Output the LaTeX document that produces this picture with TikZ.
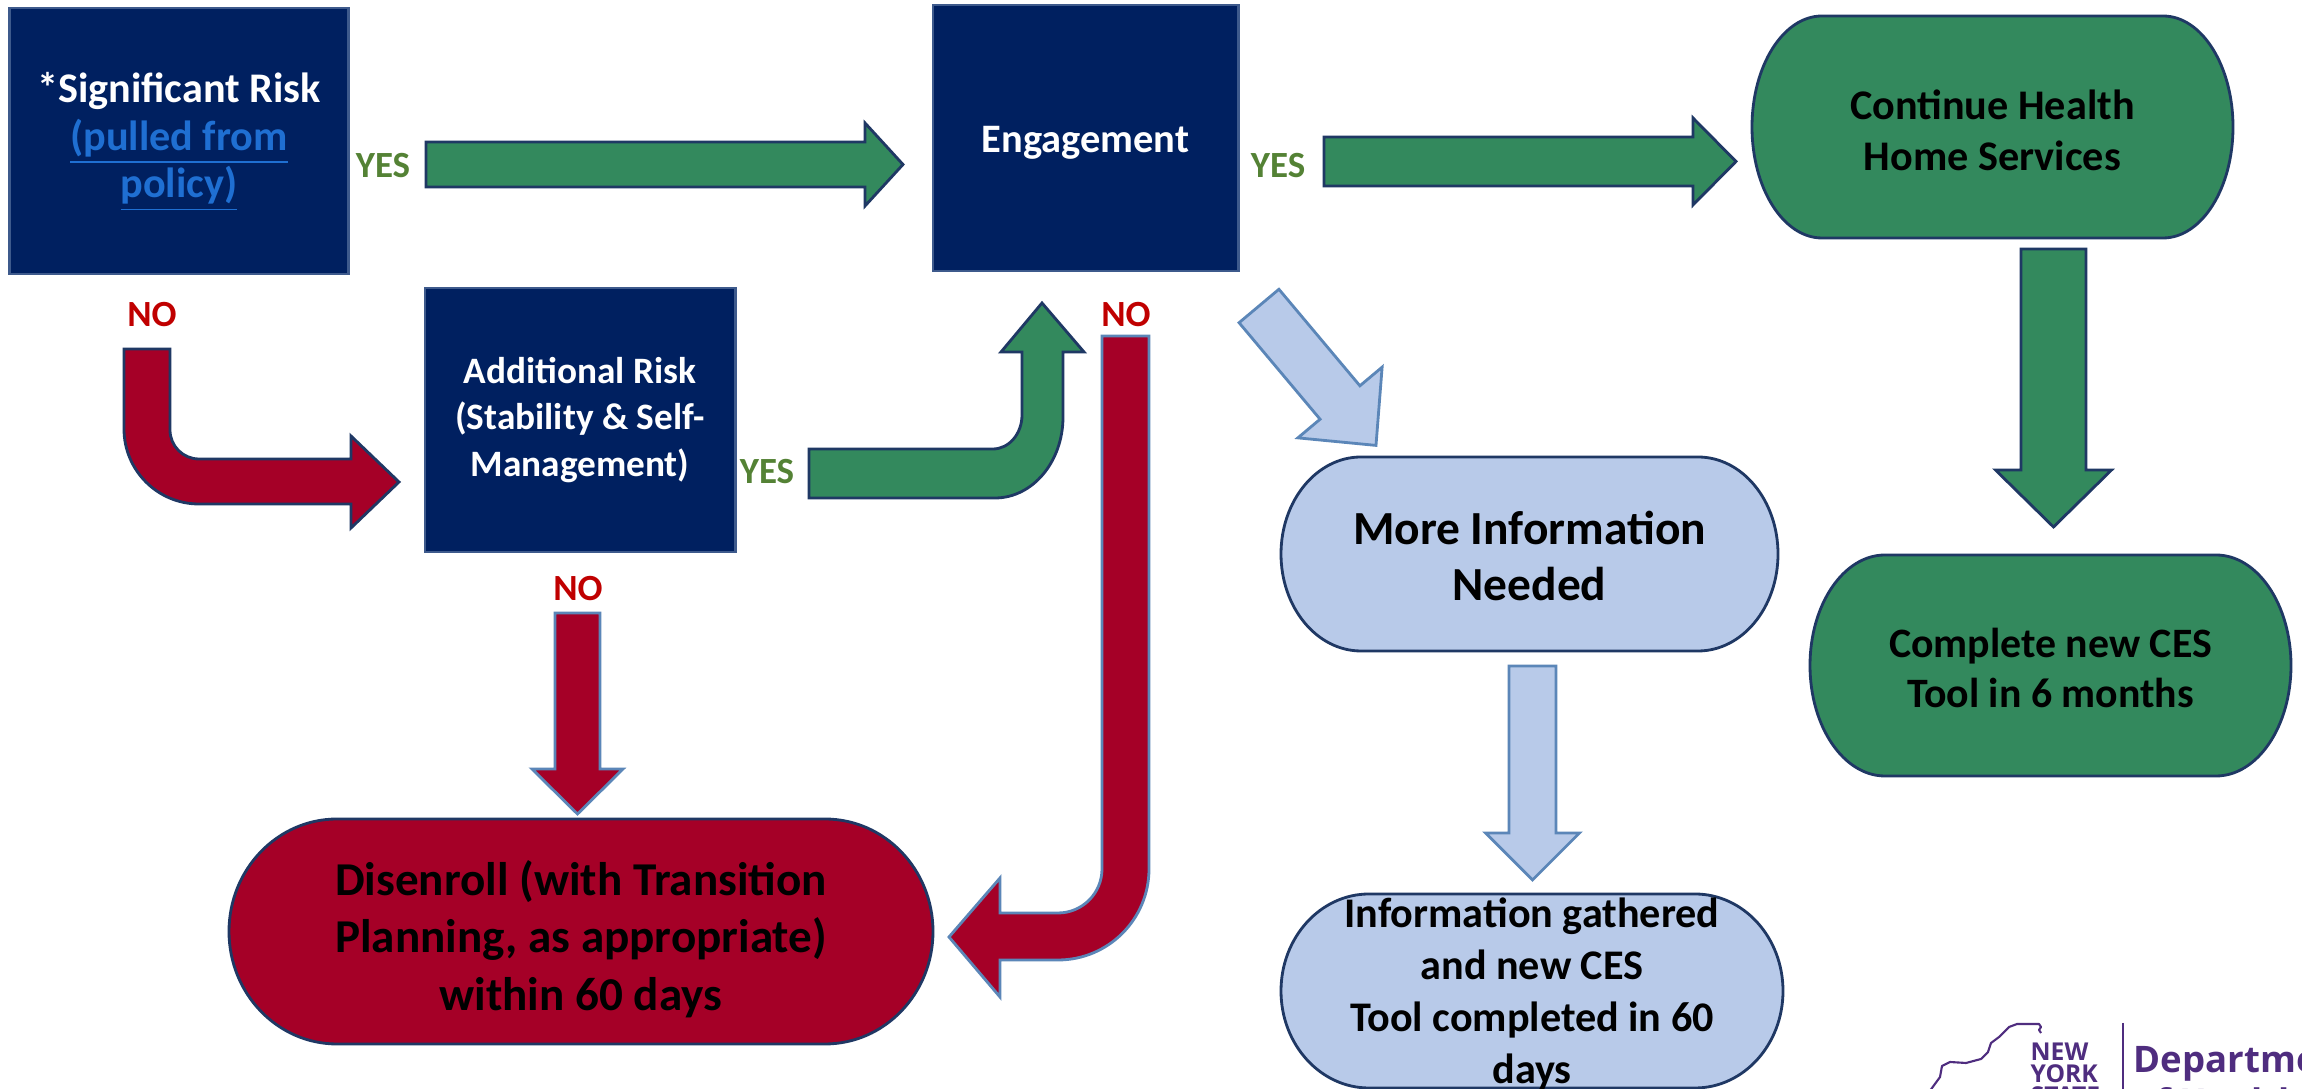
\documentclass[tikz,border=0pt]{standalone}
\usepackage{fontspec}
\setmainfont{Carlito}
\newfontfamily\logofont{Open Sans}
\definecolor{navy}{HTML}{002060}
\definecolor{navyedge}{HTML}{3E5A8C}
\definecolor{darkedge}{HTML}{1F3864}
\definecolor{steeledge}{HTML}{5B86B8}
\definecolor{seagreen}{HTML}{33895D}
\definecolor{crimson}{HTML}{A50027}
\definecolor{paleblue}{HTML}{B8CAE9}
\definecolor{yesgreen}{HTML}{548235}
\definecolor{nored}{HTML}{C00000}
\definecolor{linkblue}{HTML}{1F6FD2}
\definecolor{nyspurple}{HTML}{4F2D7F}

% straight block arrow: [style]{tail}{angle}{length}{shaft half}{head half}{head length}
\newcommand\blockarrow[7][]{%
  \begin{scope}[shift={#2},rotate=#3]
    \filldraw[#1] (0,-#5) -- ({#4-#7},-#5) -- ({#4-#7},-#6) -- (#4,0)
      -- ({#4-#7},#6) -- ({#4-#7},#5) -- (0,#5) -- cycle;
  \end{scope}}

% box with half-elliptic ends: [style]{cx}{cy}{half width}{half height}{end radius}
\newcommand\capsule[6][]{%
  \filldraw[#1] ({#2-#4+#6},{#3-#5}) -- ({#2+#4-#6},{#3-#5})
    arc[start angle=-90,end angle=90,x radius=#6,y radius=#5]
    -- ({#2-#4+#6},{#3+#5})
    arc[start angle=90,end angle=270,x radius=#6,y radius=#5] -- cycle;}

\begin{document}
\begin{tikzpicture}[
    x=0.01cm,y=-0.01cm,
    every node/.style={align=center,inner sep=0pt},
    navybox/.style={
      rectangle,
      fill=navy,
      draw=navyedge,
      line width=0.8pt,
      text=white
    },
    yes/.style={text=yesgreen,font=\bfseries\fontsize{10.5}{12}\selectfont},
    no/.style={text=nored,font=\bfseries\fontsize{10.5}{12}\selectfont},
    greenarrow/.style={fill=seagreen,draw=darkedge,line width=0.8pt},
    redarrow/.style={fill=crimson,draw=darkedge,line width=0.8pt},
    redarrowpale/.style={fill=crimson,draw=steeledge,line width=0.8pt},
    bluearrow/.style={fill=paleblue,draw=steeledge,line width=0.8pt},
    greencap/.style={fill=seagreen,draw=darkedge,line width=0.8pt},
    redcap/.style={fill=crimson,draw=darkedge,line width=0.8pt},
    bluecap/.style={fill=paleblue,draw=darkedge,line width=0.8pt},
    logotext/.style={anchor=north west,align=left,text=nyspurple}
  ]

  \useasboundingbox (0,0) rectangle (2302,1089);
  \clip (0,0) rectangle (2302,1089);
  \fill[white] (0,0) rectangle (2302,1089);

  % square boxes
  \node (sig) at (179,141) [navybox,minimum width=3.38cm,minimum height=2.66cm] {};
  \node (sigtext) at (179,142) [text=white,font=\bfseries\fontsize{12}{13.5}\selectfont]
    {*Significant Risk\\
     \textcolor{linkblue}{\underline{(pulled from}}\\
     \textcolor{linkblue}{\underline{policy)}}};
  \node (eng) at (1085.5,138) [navybox,minimum width=3.05cm,minimum height=2.66cm] {};
  \node (engtext) at (1085.5,143) [text=white,font=\bfseries\fontsize{11.5}{14}\selectfont]
    {Engagement};
  \node (add) at (580,420) [navybox,minimum width=3.10cm,minimum height=2.64cm,
    font=\bfseries\fontsize{10.6}{13.2}\selectfont]
    {Additional Risk\\(Stability \& Self-\\Management)};

  % rounded boxes
  \capsule[redcap]{581}{931.5}{352}{112.5}{108}
  \node (dis) at (581,939) [font=\bfseries\fontsize{13.4}{16.4}\selectfont]
    {Disenroll (with Transition\\Planning, as appropriate)\\within 60 days};
  \capsule[greencap]{1992.5}{127}{240.5}{111}{70}
  \node (cont) at (1992.5,130) [font=\bfseries\fontsize{12}{14.5}\selectfont]
    {Continue Health\\Home Services};
  \capsule[bluecap]{1529.5}{554}{248.5}{97}{80}
  \node (more) at (1529.5,556) [font=\bfseries\fontsize{13.5}{16.2}\selectfont]
    {More Information\\Needed};
  \capsule[bluecap]{1532}{991}{251}{97}{88}
  \node (info) at (1532,994) [font=\bfseries\fontsize{12}{14.8}\selectfont]
    {Information gathered\\and new CES\\Tool completed in 60\\days};
  \capsule[greencap]{2050.5}{665.5}{240.5}{110.5}{75}
  \node (comp) at (2050.5,668) [font=\bfseries\fontsize{11.9}{14}\selectfont]
    {Complete new CES\\Tool in 6 months};

  % labels
  \node (yes1) at (383,166) [yes] {YES};
  \node (yes2) at (767,472) [yes] {YES};
  \node (yes3) at (1278,166) [yes] {YES};
  \node (no1) at (152,315) [no] {NO};
  \node (no2) at (1126,315) [no] {NO};
  \node (no3) at (578,589) [no] {NO};

  % straight arrows
  \coordinate (sigtail) at (426,164.5);
  \coordinate (engtail) at (1324,161.5);
  \coordinate (conttail) at (2053.5,249);
  \coordinate (addtail) at (577.5,613);
  \coordinate (moretail) at (1532.5,666);
  \coordinate (diagtail) at (1259,306);
  \blockarrow[greenarrow]{(sigtail)}{0}{477}{22.5}{41.5}{38}
  \blockarrow[greenarrow]{(engtail)}{0}{412}{24.5}{43.5}{43}
  \blockarrow[greenarrow]{(conttail)}{-90}{278}{32.5}{58}{57}
  \blockarrow[redarrowpale]{(addtail)}{-90}{201}{22.5}{45.5}{45}
  \blockarrow[bluearrow]{(moretail)}{-90}{214}{23.5}{47}{47}
  \blockarrow[bluearrow]{(diagtail)}{-50}{182}{26}{55}{56}

  % bent arrows
  \filldraw[redarrow] (124,349) -- (124,429)
    arc[start angle=180,end angle=90,radius=75]
    -- (351,504) -- (351,528) -- (399,482) -- (351,436) -- (351,459) -- (199,459)
    arc[start angle=90,end angle=180,radius=29]
    -- (170,349) -- cycle;
  \filldraw[greenarrow] (809,449) -- (993,449)
    arc[start angle=90,end angle=0,x radius=29,y radius=34]
    -- (1022,352) -- (1001,352) -- (1042,303) -- (1084,352) -- (1063,352) -- (1063,417)
    arc[start angle=0,end angle=90,x radius=68,y radius=81]
    -- (809,498) -- cycle;
  \filldraw[redarrowpale] (1102,336) -- (1149,336) -- (1149,869)
    arc[start angle=0,end angle=90,radius=91]
    -- (1000,960) -- (1000,997) -- (949,937) -- (1000,878) -- (1000,913) -- (1058,913)
    arc[start angle=90,end angle=0,radius=44]
    -- cycle;

  % logo
  \draw[nyspurple,line width=0.6pt,line join=round] (1926,1096) -- (1932,1088)
    -- (1940,1077) -- (1942,1066) -- (1950,1062) -- (1966,1063) -- (1981,1059)
    -- (1988,1052) -- (1991,1043) -- (1999,1037) -- (2009,1027) -- (2017,1024)
    -- (2039,1024) -- (2041,1027) -- (2039,1030) -- (2041,1033);
  \node (nys) at (2030,1042) [logotext,font=\logofont\bfseries\fontsize{7}{6.3}\selectfont]
    {NEW\\YORK\\STATE};
  \coordinate (bartop) at (2123,1023);
  \coordinate (barfoot) at (2123,1095);
  \draw[nyspurple,line width=0.6pt] (bartop) -- (barfoot);
  \node (doh) at (2133,1046) [logotext,font=\logofont\bfseries\fontsize{10.4}{12}\selectfont]
    {Department\\of Health};

\end{tikzpicture}
\end{document}
